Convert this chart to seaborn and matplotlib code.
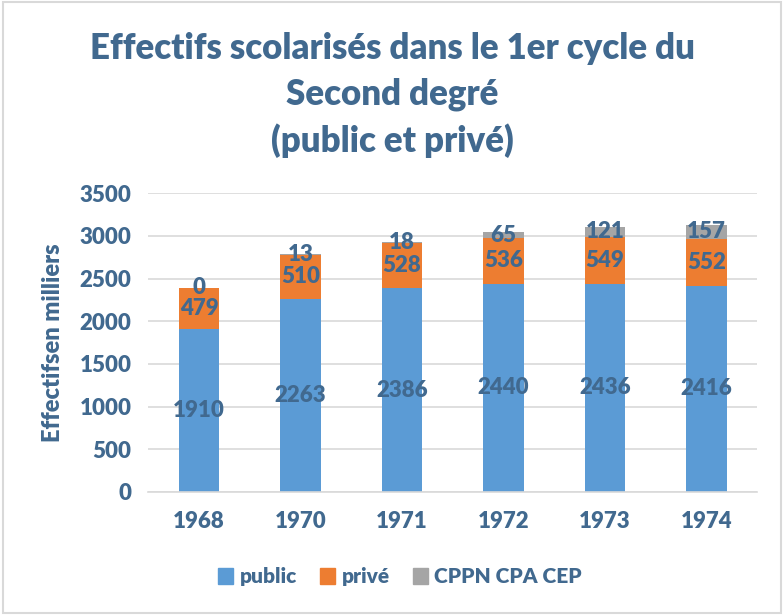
import matplotlib.pyplot as plt
import matplotlib.patches as mpatches
import seaborn as sns
import pandas as pd
import numpy as np

# données (milliers d'élèves)
annees = ["1968", "1970", "1971", "1972", "1973", "1974"]
public = [1910, 2263, 2386, 2440, 2436, 2416]
prive = [479, 510, 528, 536, 549, 552]
cppn = [0, 13, 18, 65, 121, 157]

bleu_txt = "#41698F"
couleurs = {"public": "#5B9BD5", "privé": "#ED7D31", "CPPN CPA CEP": "#A5A5A5"}

sns.set_theme(style="white")
plt.rcParams["font.family"] = ["Lato", "DejaVu Sans"]
plt.rcParams["font.weight"] = "bold"

df = pd.DataFrame({"annee": annees, "public": public, "privé": prive, "CPPN CPA CEP": cppn})

fig = plt.figure(figsize=(7.84, 6.15), dpi=100)
ax = fig.add_axes([0.189, 0.2, 0.777, 0.486])

# empilement : chaque série posée sur la somme des précédentes
bas = np.zeros(len(annees))
for serie in ["public", "privé", "CPPN CPA CEP"]:
    sns.barplot(data=df, x="annee", y=serie, order=annees, color=couleurs[serie],
                width=0.4, bottom=bas, ax=ax, saturation=1, linewidth=0)
    bas = bas + df[serie].values

# étiquettes au centre de chaque segment
for cont in ax.containers:
    ax.bar_label(cont, label_type="center", color=bleu_txt, fontsize=16,
                 fontweight="heavy", fmt="%d")

ax.set_ylim(0, 3500)
ax.set_xlim(-0.5, 5.5)
ax.set_yticks(range(0, 3501, 500))
ax.yaxis.grid(True, color="#D9D9D9", linewidth=1.2)
ax.set_axisbelow(True)
for s in ["top", "right", "left"]:
    ax.spines[s].set_visible(False)
ax.spines["bottom"].set_color("#D9D9D9")
ax.spines["bottom"].set_linewidth(1.2)
ax.set_xticks(np.arange(-0.5, 6, 1), minor=True)
ax.tick_params(axis="x", which="minor", length=7, color="#D9D9D9", width=1.2)
ax.tick_params(axis="x", which="major", length=0, pad=14)
ax.tick_params(axis="y", length=0, pad=12)
ax.tick_params(labelsize=16, labelcolor=bleu_txt)
for lab in ax.get_xticklabels() + ax.get_yticklabels():
    lab.set_fontweight("heavy")

ax.set_xlabel("")
ax.set_ylabel("Effectifsen milliers", fontsize=17, color=bleu_txt, fontweight="heavy", labelpad=11)

fig.text(0.5, 0.948, "Effectifs scolarisés dans le 1er cycle du\nSecond degré\n(public et privé)",
         ha="center", va="top", fontsize=25, color=bleu_txt, fontweight="heavy", linespacing=1.45)

poignees = [mpatches.Patch(color=couleurs[k], label=k) for k in couleurs]
leg = fig.legend(handles=poignees, loc="center", bbox_to_anchor=(0.51, 0.062), ncol=3,
                 frameon=False, fontsize=15, handlelength=0.75, handleheight=0.75,
                 handletextpad=0.3, columnspacing=1.1)
for t in leg.get_texts():
    t.set_color(bleu_txt)
    t.set_fontweight("heavy")

fig.patches.append(mpatches.Rectangle((0.004, 0.004), 0.992, 0.992, transform=fig.transFigure,
                                      fill=False, edgecolor="#D9D9D9", linewidth=1.5))

fig.savefig("out.png", dpi=100)
